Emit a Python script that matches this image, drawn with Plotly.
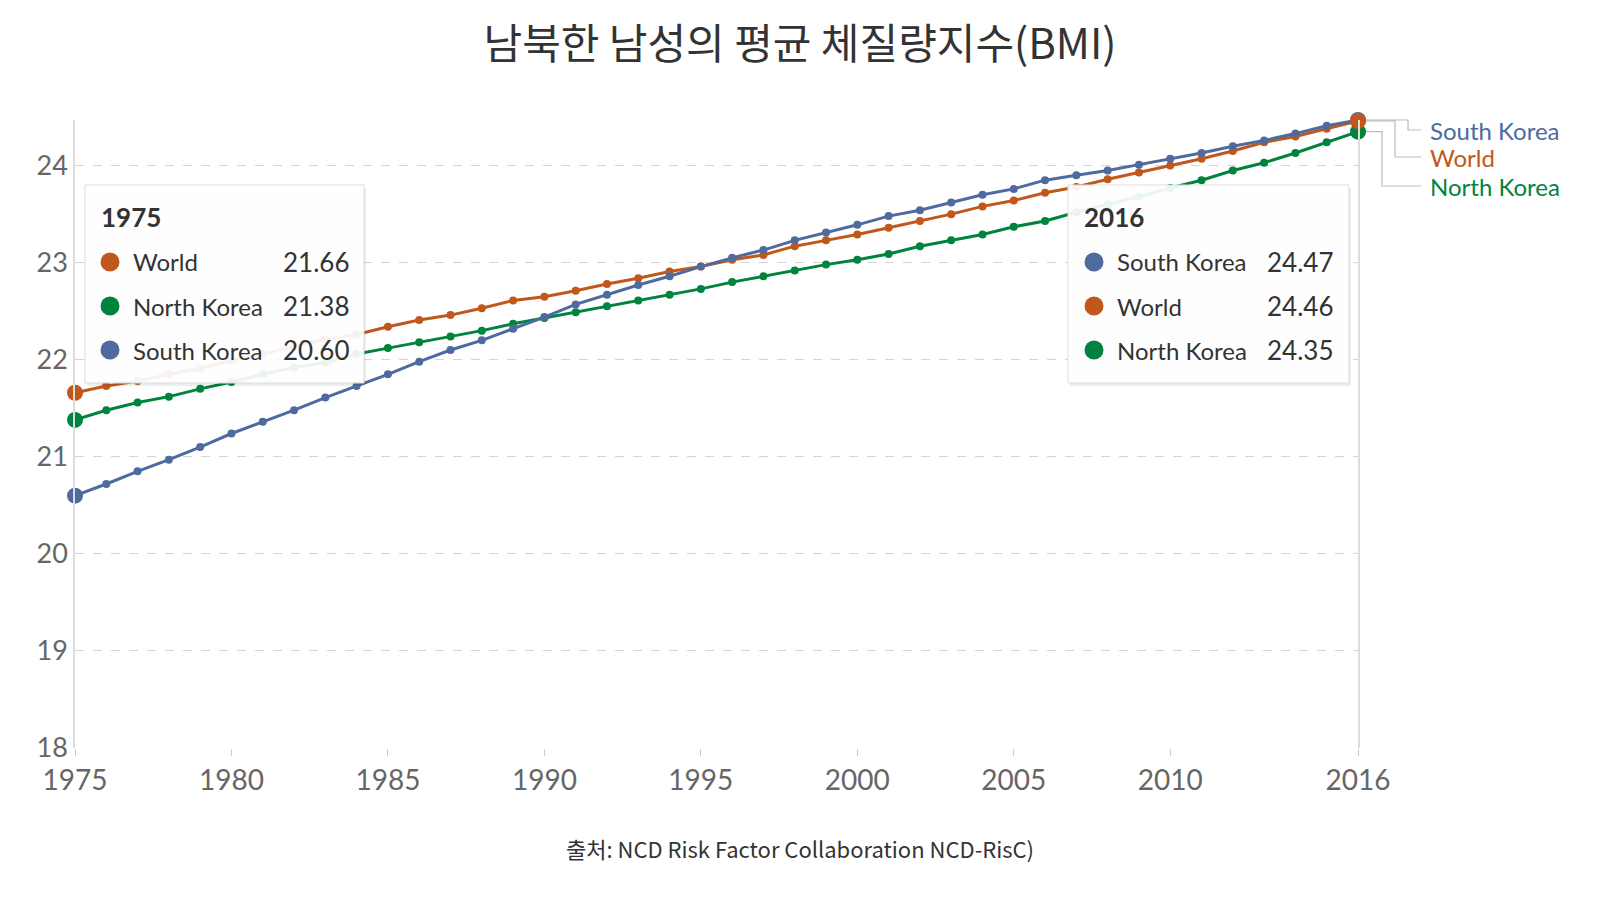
import plotly.graph_objects as go

# data (mean BMI of men)
years = list(range(1975, 2017))

south_korea = [
    20.60, 20.72, 20.85, 20.97, 21.10, 21.24, 21.36, 21.48, 21.61, 21.73,
    21.85, 21.98, 22.10, 22.20, 22.32, 22.44, 22.57, 22.67, 22.77, 22.86,
    22.96, 23.05, 23.13, 23.23, 23.31, 23.39, 23.48, 23.54, 23.62, 23.70,
    23.76, 23.85, 23.90, 23.95, 24.01, 24.07, 24.13, 24.20, 24.26, 24.33,
    24.41, 24.47,
]
world = [
    21.66, 21.73, 21.78, 21.85, 21.91, 21.99, 22.06, 22.14, 22.21, 22.26,
    22.34, 22.41, 22.46, 22.53, 22.61, 22.65, 22.71, 22.78, 22.84, 22.91,
    22.96, 23.03, 23.08, 23.17, 23.23, 23.29, 23.36, 23.43, 23.50, 23.58,
    23.64, 23.72, 23.78, 23.86, 23.93, 24.00, 24.07, 24.15, 24.24, 24.30,
    24.38, 24.46,
]
north_korea = [
    21.38, 21.48, 21.56, 21.62, 21.70, 21.77, 21.85, 21.92, 21.97, 22.06,
    22.12, 22.18, 22.24, 22.30, 22.37, 22.43, 22.49, 22.55, 22.61, 22.67,
    22.73, 22.80, 22.86, 22.92, 22.98, 23.03, 23.09, 23.17, 23.23, 23.29,
    23.37, 23.43, 23.52, 23.60, 23.68, 23.77, 23.85, 23.95, 24.03, 24.13,
    24.24, 24.35,
]

series_names = ["South Korea", "World", "North Korea"]
x_tickvals = [1975, 1980, 1985, 1990, 1995, 2000, 2005, 2010, 2016]
y_tickvals = [18, 19, 20, 21, 22, 23, 24]

TITLE = "남북한 남성의 평균 체질량지수(BMI)"
SOURCE = "출처: NCD Risk Factor Collaboration NCD-RisC)"

COLORS = {"South Korea": "#4e6a9e", "World": "#c0581b", "North Korea": "#00843d"}
DATA = {"South Korea": south_korea, "World": world, "North Korea": north_korea}

FONT = "Lato, 'Noto Sans CJK KR', sans-serif"
KFONT = "'Noto Sans CJK KR', Lato, sans-serif"
TEXT = "#333333"

# plot area in pixels
W, H = 1600, 900
L, R, T, B = 67, 250, 112, 160
Y_RANGE = [18, 24.47]


def px(x):
    return (x - L) / (W - L - R)


def py(y):
    return (H - B - y) / (H - T - B)


def val_to_paper(v):
    return (v - Y_RANGE[0]) / (Y_RANGE[1] - Y_RANGE[0])


fig = go.Figure()

# lines with small markers (drawing order: green, orange, blue)
for name in ["North Korea", "World", "South Korea"]:
    fig.add_trace(go.Scatter(
        x=years, y=DATA[name], mode="lines+markers", name=name,
        line=dict(color=COLORS[name], width=3),
        marker=dict(size=8, color=COLORS[name]),
        hoverinfo="skip", cliponaxis=False,
    ))

# highlighted end points (world drawn last so it sits on top at 2016)
for name in ["South Korea", "North Korea", "World"]:
    vals = DATA[name]
    fig.add_trace(go.Scatter(
        x=[years[0], years[-1]], y=[vals[0], vals[-1]], mode="markers",
        marker=dict(size=16, color=COLORS[name], line=dict(width=0)),
        hoverinfo="skip", cliponaxis=False,
    ))

shapes = []
annotations = []


def tooltip(x0, x1, title, order, idx, dot_x, name_x, val_x):
    y0, y1 = 177, 375
    shapes.append(dict(
        type="rect", xref="paper", yref="paper", layer="above",
        x0=px(x0 + 2), x1=px(x1 + 2), y0=py(y1 + 3), y1=py(y0 + 3),
        fillcolor="rgba(0,0,0,0.07)", line=dict(width=0),
    ))
    shapes.append(dict(
        type="rect", xref="paper", yref="paper", layer="above",
        x0=px(x0), x1=px(x1), y0=py(y1), y1=py(y0),
        fillcolor="rgba(255,255,255,0.92)", line=dict(color="#dddddd", width=1),
    ))
    annotations.append(dict(
        xref="paper", yref="paper", x=px(x0 + 14), y=py(209),
        xanchor="left", yanchor="middle", showarrow=False,
        text="<b>%s</b>" % title, font=dict(family=FONT, size=26, color=TEXT),
    ))
    for row, name in enumerate(order):
        ry = 254 + row * 44
        shapes.append(dict(
            type="circle", xref="paper", yref="paper", layer="above",
            xsizemode="pixel", ysizemode="pixel",
            xanchor=px(dot_x), yanchor=py(ry),
            x0=-9.5, x1=9.5, y0=-9.5, y1=9.5,
            fillcolor=COLORS[name], line=dict(width=0),
        ))
        annotations.append(dict(
            xref="paper", yref="paper", x=px(name_x), y=py(ry),
            xanchor="left", yanchor="middle", showarrow=False,
            text=name, font=dict(family=FONT, size=24, color=TEXT),
        ))
        annotations.append(dict(
            xref="paper", yref="paper", x=px(val_x), y=py(ry),
            xanchor="right", yanchor="middle", showarrow=False,
            text="%.2f" % DATA[name][idx], font=dict(family=FONT, size=26, color=TEXT),
        ))


tooltip(77, 356, str(years[0]), ["World", "North Korea", "South Korea"], 0, 102, 123, 343)
tooltip(1060, 1341, str(years[-1]), ["South Korea", "World", "North Korea"], -1, 1086, 1107, 1327)

# end labels with elbow connectors
label_y = {"South Korea": 122, "World": 149, "North Korea": 178}
elbow_x = {"South Korea": 1400, "World": 1387, "North Korea": 1374}
for name in series_names:
    y_start = val_to_paper(DATA[name][-1])
    path = "M %f %f L %f %f L %f %f L %f %f" % (
        px(1357), y_start, px(elbow_x[name]), y_start,
        px(elbow_x[name]), py(label_y[name]), px(1413), py(label_y[name]),
    )
    shapes.append(dict(
        type="path", xref="paper", yref="paper", path=path,
        line=dict(color="#bbbbbb", width=1.2), layer="below",
    ))
    annotations.append(dict(
        xref="paper", yref="paper", x=px(1420), y=py(label_y[name]),
        xanchor="left", yanchor="middle", showarrow=False,
        text=name, font=dict(family=FONT, size=24, color=COLORS[name]),
    ))

annotations.append(dict(
    xref="paper", yref="paper", x=px(792), y=py(840),
    xanchor="center", yanchor="middle", showarrow=False,
    text=SOURCE, font=dict(family=KFONT, size=22, color=TEXT),
))

fig.update_layout(
    width=W, height=H,
    margin=dict(l=L, r=R, t=T, b=B),
    paper_bgcolor="white", plot_bgcolor="white",
    showlegend=False, hovermode=False,
    title=dict(
        text=TITLE, x=px(792), xref="paper", y=1 - 36 / H, yanchor="middle",
        xanchor="center", font=dict(family=KFONT, size=42, color=TEXT),
    ),
    shapes=shapes, annotations=annotations,
)
fig.update_xaxes(
    range=[1975, 2016], tickvals=x_tickvals, showgrid=False, zeroline=False,
    showline=False, ticks="outside", ticklen=7, tickcolor="#cccccc",
    tickfont=dict(family=FONT, size=28, color="#666666"),
)
fig.update_yaxes(
    range=Y_RANGE, tickvals=y_tickvals, showgrid=True, gridcolor="#d4d4d4",
    griddash="dash", gridwidth=1, zeroline=False, showline=True, mirror=True,
    linecolor="#dddddd", linewidth=1.5, ticks="",
    tickfont=dict(family=FONT, size=27, color="#666666"),
)

fig.write_html("out.html")
